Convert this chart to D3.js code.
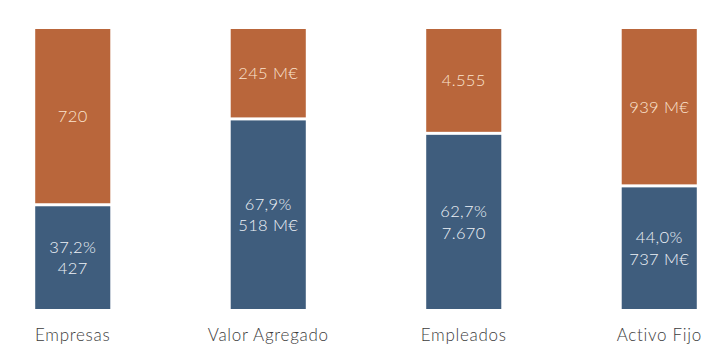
<!DOCTYPE html>
<html>
<head>
<meta charset="utf-8">
<script src="https://cdn.jsdelivr.net/npm/d3@7"></script>
<style>
  html, body { margin: 0; padding: 0; background: #ffffff; }
  svg { display: block; }
  text { font-family: Lato, "Open Sans", sans-serif; }
</style>
</head>
<body>
<svg id="chart" width="728" height="364"></svg>
<script>
const categories = ["Empresas", "Valor Agregado", "Empleados", "Activo Fijo"];
const blueValues = [427, 518, 7670, 737];
const orangeValues = [720, 245, 4555, 939];
const blueLabels = ["427", "518 M€", "7.670", "737 M€"];
const orangeLabels = ["720", "245 M€", "4.555", "939 M€"];
const pctLabels = ["37,2%", "67,9%", "62,7%", "44,0%"];

const svg = d3.select("#chart");
const blue = "#3f5d7d";
const orange = "#b9663b";
const halfGap = 1.5;

const x = d3.scaleBand().domain(categories).range([-25, 757]).paddingInner(0.616).paddingOuter(0.308);
const y = d3.scaleLinear().domain([0, 1]).range([309, 29]);

const data = categories.map((c, i) => {
  const total = blueValues[i] + orangeValues[i];
  return { cat: c, frac: blueValues[i] / total, i };
});

const g = svg.append("g");

g.selectAll("rect.blue").data(data).join("rect")
  .attr("class", "blue")
  .attr("x", d => x(d.cat))
  .attr("width", x.bandwidth())
  .attr("y", d => y(d.frac) + halfGap)
  .attr("height", d => y(0) - y(d.frac) - halfGap)
  .attr("fill", blue);

g.selectAll("rect.orange").data(data).join("rect")
  .attr("class", "orange")
  .attr("x", d => x(d.cat))
  .attr("width", x.bandwidth())
  .attr("y", y(1))
  .attr("height", d => y(d.frac) - y(1) - halfGap)
  .attr("fill", orange);

const fs = 16.5;
const fw = 300;

g.selectAll("text.olab").data(data).join("text")
  .attr("class", "olab")
  .attr("x", d => x(d.cat) + x.bandwidth() / 2)
  .attr("y", d => (y(1) + y(d.frac) - halfGap) / 2)
  .attr("dy", "0.36em")
  .attr("text-anchor", "middle")
  .attr("font-size", fs)
  .attr("font-weight", fw)
  .attr("letter-spacing", 0.4)
  .attr("fill", "#fbe4cf")
  .text(d => orangeLabels[d.i]);

const lineGap = 21.5;
g.selectAll("text.bpct").data(data).join("text")
  .attr("class", "bpct")
  .attr("x", d => x(d.cat) + x.bandwidth() / 2)
  .attr("y", d => (y(0) + y(d.frac) + halfGap) / 2 - lineGap / 2)
  .attr("dy", "0.36em")
  .attr("text-anchor", "middle")
  .attr("font-size", fs)
  .attr("font-weight", fw)
  .attr("letter-spacing", 0.4)
  .attr("fill", "#eef2f7")
  .text(d => pctLabels[d.i]);

g.selectAll("text.bval").data(data).join("text")
  .attr("class", "bval")
  .attr("x", d => x(d.cat) + x.bandwidth() / 2)
  .attr("y", d => (y(0) + y(d.frac) + halfGap) / 2 + lineGap / 2)
  .attr("dy", "0.36em")
  .attr("text-anchor", "middle")
  .attr("font-size", fs)
  .attr("font-weight", fw)
  .attr("letter-spacing", 0.4)
  .attr("fill", "#eef2f7")
  .text(d => blueLabels[d.i]);

const axis = d3.axisBottom(x).tickSize(0).tickPadding(0);
const ax = svg.append("g").attr("transform", "translate(0,327)").call(axis);
ax.select(".domain").remove();
ax.selectAll("text")
  .attr("font-size", 17)
  .attr("font-weight", 300)
  .attr("letter-spacing", 0.7)
  .attr("fill", "#3c3c3c")
  .attr("dy", "0.8em")
  .style("font-family", "Lato, 'Open Sans', sans-serif");
</script>
</body>
</html>
